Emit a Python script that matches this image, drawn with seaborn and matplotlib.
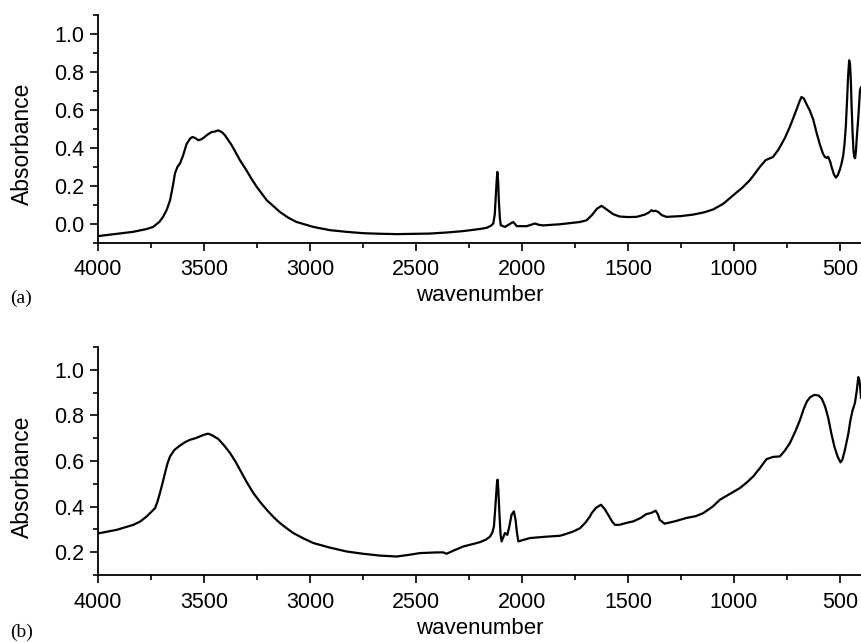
import pandas as pd
import seaborn as sns
import matplotlib
import matplotlib.pyplot as plt
from matplotlib.ticker import MultipleLocator

matplotlib.use("Agg")

# spectrum (a)
wn_a = [4000, 3990, 3900, 3835, 3770, 3740, 3710, 3693, 3675, 3660, 3645, 3637,
        3625, 3613, 3600, 3582, 3566, 3555, 3542, 3527, 3512, 3503, 3480, 3464,
        3450, 3433, 3415, 3401, 3385, 3369, 3350, 3330, 3299, 3275, 3251, 3225,
        3204, 3170, 3142, 3100, 3063, 3020, 2984, 2906, 2827, 2749, 2670, 2591,
        2434, 2350, 2277, 2200, 2167, 2145, 2135, 2128, 2124, 2119, 2116, 2112,
        2109, 2104, 2100, 2080, 2055, 2041, 2030, 2025, 1978, 1955, 1939, 1920,
        1900, 1821, 1726, 1695, 1670, 1645, 1624, 1600, 1569, 1540, 1500, 1459,
        1420, 1400, 1388, 1380, 1370, 1357, 1340, 1318, 1250, 1192, 1140, 1098,
        1050, 1003, 960, 925, 900, 877, 850, 815, 790, 760, 736, 710, 690, 681,
        670, 655, 642, 626, 610, 595, 580, 571, 562, 555, 545, 539, 528, 519,
        510, 500, 492, 484, 478, 472, 466, 461, 456, 452, 448, 445, 440, 436,
        432, 428, 424, 421, 413, 405, 400]
abs_a = [-0.065, -0.064, -0.052, -0.043, -0.028, -0.017, 0.010, 0.036, 0.075, 0.124, 0.210, 0.265,
         0.300, 0.318, 0.355, 0.420, 0.448, 0.457, 0.452, 0.440, 0.445, 0.452, 0.472, 0.483,
         0.485, 0.492, 0.482, 0.466, 0.440, 0.413, 0.375, 0.334, 0.280, 0.235, 0.194, 0.155,
         0.124, 0.090, 0.062, 0.030, 0.009, -0.005, -0.017, -0.034, -0.043, -0.050, -0.053, -0.055,
         -0.052, -0.046, -0.039, -0.028, -0.022, -0.010, 0.001, 0.050, 0.124, 0.230, 0.273, 0.220,
         0.124, 0.030, -0.008, -0.017, 0.000, 0.009, -0.005, -0.013, -0.013, -0.005, 0.001, -0.006,
         -0.009, -0.003, 0.009, 0.018, 0.045, 0.080, 0.094, 0.075, 0.050, 0.038, 0.035, 0.036,
         0.048, 0.060, 0.071, 0.066, 0.068, 0.062, 0.045, 0.036, 0.040, 0.048, 0.060, 0.075,
         0.105, 0.150, 0.190, 0.229, 0.265, 0.300, 0.335, 0.352, 0.390, 0.450, 0.510, 0.585, 0.645, 0.668,
         0.660, 0.625, 0.597, 0.550, 0.480, 0.420, 0.370, 0.352, 0.347, 0.352, 0.325, 0.299, 0.260, 0.243,
         0.255, 0.285, 0.317, 0.360, 0.420, 0.510, 0.650, 0.780, 0.861, 0.840, 0.750, 0.633, 0.480, 0.390,
         0.352, 0.345, 0.385, 0.440, 0.560, 0.703, 0.720]

# spectrum (b)
wn_b = [4000, 3990, 3912, 3833, 3800, 3770, 3745, 3731, 3720, 3708, 3695, 3684,
        3672, 3660, 3640, 3613, 3590, 3566, 3540, 3519, 3500, 3480, 3460, 3432,
        3405, 3377, 3350, 3330, 3300, 3267, 3235, 3204, 3170, 3142, 3110, 3079,
        3030, 2984, 2906, 2827, 2749, 2670, 2591, 2528, 2481, 2400, 2371, 2356,
        2320, 2277, 2230, 2198, 2170, 2151, 2140, 2132, 2126, 2123, 2118, 2115,
        2111, 2107, 2101, 2096, 2088, 2080, 2069, 2060, 2049, 2038, 2030, 2024,
        2017, 2000, 1962, 1884, 1821, 1805, 1760, 1726, 1700, 1679, 1671, 1650,
        1627, 1610, 1593, 1575, 1561, 1540, 1500, 1475, 1440, 1413, 1390, 1369,
        1358, 1350, 1327, 1280, 1224, 1180, 1145, 1100, 1066, 1020, 972, 940,
        909, 877, 846, 815, 783, 760, 736, 710, 688, 670, 655, 640, 620, 600,
        585, 570, 555, 540, 525, 510, 497, 488, 476, 460, 450, 440, 429, 420,
        413, 408, 405, 400]
abs_b = [0.283, 0.284, 0.298, 0.320, 0.335, 0.357, 0.380, 0.393, 0.420, 0.459, 0.505, 0.547,
         0.590, 0.620, 0.648, 0.668, 0.682, 0.693, 0.700, 0.708, 0.715, 0.720, 0.712, 0.696,
         0.668, 0.635, 0.595, 0.561, 0.510, 0.459, 0.420, 0.386, 0.352, 0.328, 0.305, 0.284,
         0.260, 0.240, 0.220, 0.203, 0.193, 0.185, 0.181, 0.189, 0.196, 0.199, 0.199, 0.193,
         0.208, 0.225, 0.236, 0.244, 0.255, 0.268, 0.285, 0.313, 0.390, 0.430, 0.500, 0.518,
         0.470, 0.386, 0.280, 0.247, 0.265, 0.284, 0.276, 0.310, 0.364, 0.379, 0.342, 0.290,
         0.247, 0.252, 0.262, 0.268, 0.272, 0.276, 0.290, 0.305, 0.330, 0.357, 0.371, 0.395,
         0.408, 0.390, 0.364, 0.335, 0.320, 0.320, 0.330, 0.335, 0.350, 0.367, 0.372, 0.382,
         0.365, 0.342, 0.325, 0.335, 0.350, 0.358, 0.371, 0.400, 0.430, 0.455, 0.481, 0.505,
         0.532, 0.569, 0.608, 0.618, 0.620, 0.645, 0.678, 0.730, 0.780, 0.830, 0.862, 0.880, 0.890, 0.887,
         0.873, 0.840, 0.790, 0.720, 0.660, 0.618, 0.594, 0.606, 0.649, 0.720, 0.780, 0.822, 0.854, 0.910,
         0.968, 0.955, 0.934, 0.876]

sns.set_style("ticks")
plt.rcParams['font.family'] = ['Liberation Sans', 'DejaVu Sans']
plt.rcParams['text.color'] = 'black'
plt.rcParams['axes.labelcolor'] = 'black'

fig = plt.figure(figsize=(8.62, 6.42), dpi=100)
ax_a = fig.add_axes([0.1137, 0.622, 0.8852, 0.3547])
ax_b = fig.add_axes([0.1137, 0.1044, 0.8852, 0.3551])

panels = [
    (ax_a, wn_a, abs_a, (-0.1, 1.1), 0.0, "(a)", 0.536),
    (ax_b, wn_b, abs_b, (0.1, 1.1), 0.2, "(b)", 0.0156),
]

for ax, wn, ab, ylim, ystart, tag, ty in panels:
    df = pd.DataFrame({"wavenumber": wn, "Absorbance": ab})
    sns.lineplot(data=df, x="wavenumber", y="Absorbance", ax=ax,
                 color="black", linewidth=1.6, estimator=None)
    ax.set_xlim(4000, 400)
    ax.set_ylim(*ylim)
    ax.xaxis.set_major_locator(MultipleLocator(500))
    ax.xaxis.set_minor_locator(MultipleLocator(250))
    ax.set_yticks([round(ystart + 0.2 * i, 1) for i in range(int((1.0 - ystart) / 0.2 + 1.5))])
    ax.yaxis.set_minor_locator(MultipleLocator(0.1))
    ax.tick_params(which="major", direction="out", length=6, width=1.2,
                   labelsize=15.5, colors="black", pad=4)
    ax.tick_params(which="minor", direction="out", length=3.5, width=1.2, colors="black")
    ax.tick_params(axis="x", which="major", pad=6)
    for s in ["top", "right"]:
        ax.spines[s].set_visible(False)
    for s in ["left", "bottom"]:
        ax.spines[s].set_linewidth(1.3)
        ax.spines[s].set_color("black")
    ax.set_xlabel("wavenumber", fontsize=16, va="center", color="black")
    ax.set_ylabel("Absorbance", fontsize=16.5, va="center", color="black")
    ax.xaxis.set_label_coords(0.5, -0.233)
    ax.yaxis.set_label_coords(-0.0996, 0.432)
    fig.text(0.0116, ty, tag, fontsize=14, va="center", ha="left", color="black",
             family=["Liberation Serif", "DejaVu Serif"])

fig.savefig("out.png", dpi=100)
